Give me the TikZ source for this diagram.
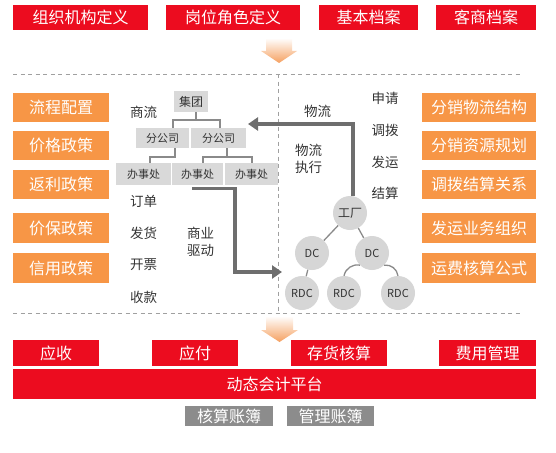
\documentclass[tikz,border=0pt]{standalone}
\usepackage{fontspec}
\setmainfont{Noto Sans CJK SC}
\usetikzlibrary{arrows.meta,calc}
\definecolor{cred}{HTML}{EC0C1F}
\definecolor{corange}{HTML}{F79646}
\definecolor{clight}{HTML}{D9D9D9}
\definecolor{cdark}{HTML}{8C8C8C}
\definecolor{ctext}{HTML}{333333}
\definecolor{cconn}{HTML}{8A8A8A}
\definecolor{carrow}{HTML}{6E6E6E}
\definecolor{ccirc}{HTML}{D6D6D6}
\definecolor{cdash}{HTML}{A0A0A0}
\definecolor{cshade}{HTML}{F5A060}
\tikzset{
  box/.style={inner sep=0pt, anchor=center, align=center},
  redbox/.style={box, fill=cred, text=white, font=\fontsize{16}{18}\selectfont},
  orbox/.style={box, fill=corange, text=white, font=\fontsize{16}{18}\selectfont},
  gbox/.style={box, fill=clight, text=ctext, font=\fontsize{11}{13}\selectfont},
  dbox/.style={box, fill=cdark, text=white, font=\fontsize{16}{18}\selectfont},
  lbl/.style={inner sep=0pt, text=ctext, align=left, font=\fontsize{13.5}{17}\selectfont},
  circ/.style={circle, fill=ccirc, minimum size=34pt, inner sep=0pt, text=ctext, font=\fontsize{11}{12}\selectfont},
  conn/.style={draw=cconn, line width=2.2pt},
  tree/.style={draw=cconn, line width=1.3pt},
  flow/.style={draw=carrow, line width=3.3pt, line join=miter, -{Triangle[length=10pt,width=13pt]}},
  dashline/.style={draw=cdash, line width=0.8pt, dash pattern=on 4pt off 3.5pt}
}
\begin{document}
\begin{tikzpicture}[x=1pt,y=-1pt]
\useasboundingbox (0,0) rectangle (556,452);
% top red boxes
\node[redbox, minimum width=135pt, minimum height=25pt] (t1) at (80.5,17.5) {组织机构定义};
\node[redbox, minimum width=134pt, minimum height=25pt] (t2) at (233,17.5) {岗位角色定义};
\node[redbox, minimum width=99pt, minimum height=25pt] (t3) at (368.5,17.5) {基本档案};
\node[redbox, minimum width=100pt, minimum height=25pt] (t4) at (486,17.5) {客商档案};
% top arrow
\shade[top color=white, bottom color=cshade] (266,38) -- (292,38) -- (292,51) -- (297,51) -- (279,63) -- (261,51) -- (266,51) -- cycle;
% dashed frame
\draw[dashline] (13,74) -- (520,74);
\draw[dashline] (13,313) -- (520,313);
\draw[dashline] (278,74) -- (278,313);
% left orange boxes
\node[orbox, minimum width=96pt, minimum height=29pt] (l1) at (61,107.5) {流程配置};
\node[orbox, minimum width=96pt, minimum height=29pt] (l2) at (61,145.5) {价格政策};
\node[orbox, minimum width=96pt, minimum height=29pt] (l3) at (61,184.5) {返利政策};
\node[orbox, minimum width=96pt, minimum height=30pt] (l4) at (61,228) {价保政策};
\node[orbox, minimum width=96pt, minimum height=30pt] (l5) at (61,268) {信用政策};
% right orange boxes
\node[orbox, minimum width=114pt, minimum height=29pt] (r1) at (479,107.5) {分销物流结构};
\node[orbox, minimum width=114pt, minimum height=29pt] (r2) at (479,145.5) {分销资源规划};
\node[orbox, minimum width=114pt, minimum height=29pt] (r3) at (479,184.5) {调拨结算关系};
\node[orbox, minimum width=114pt, minimum height=30pt] (r4) at (479,228) {发运业务组织};
\node[orbox, minimum width=114pt, minimum height=30pt] (r5) at (479,268) {运费核算公式};
% hierarchy
\node[gbox, minimum width=34pt, minimum height=21pt, font=\fontsize{12}{14}\selectfont] (jt) at (191,101.5) {集团};
\node[gbox, minimum width=53pt, minimum height=20pt] (fg1) at (162.5,138) {分公司};
\node[gbox, minimum width=55pt, minimum height=20pt] (fg2) at (218.5,138) {分公司};
\node[gbox, minimum width=55pt, minimum height=22pt] (b1) at (143.5,174) {办事处};
\node[gbox, minimum width=51pt, minimum height=22pt] (b2) at (197.5,174) {办事处};
\node[gbox, minimum width=53pt, minimum height=22pt] (b3) at (251.5,174) {办事处};
\draw[conn] ([xshift=5pt]jt.south) -- ++(0,8);
\draw[conn] ([xshift=10.5pt]fg1.north) -- ++(0,-8) -| ([xshift=1.5pt]fg2.north);
\draw[conn] ([xshift=12.5pt]fg1.south) -- ++(0,9) -| ([xshift=6.5pt]b1.north);
\draw[conn] ([xshift=8.5pt]fg2.south) -- ++(0,9);
\draw[conn] ([xshift=5.5pt]b2.north) -- ++(0,-6) -| ([xshift=0.5pt]b3.north);
% labels left
\node[lbl] (sl) at (143.5,112) {商流};
\node[lbl] (dd) at (143.5,201) {订单};
\node[lbl] (fh) at (143.5,233) {发货};
\node[lbl] (kp) at (143.5,265) {开票};
\node[lbl] (sk) at (143.5,297) {收款};
\node[lbl] (syqd) at (200.5,241.5) {商业\\驱动};
% labels right
\node[lbl] (wl) at (317.5,111) {物流};
\node[lbl] (wlzx) at (308.5,158.5) {物流\\执行};
\node[lbl] (sq) at (385,98) {申请};
\node[lbl] (db) at (385,130) {调拨};
\node[lbl] (fy) at (385,162) {发运};
\node[lbl] (js) at (385,193) {结算};
% circles
\node[circ, font=\fontsize{12}{13}\selectfont] (gc) at (350,213) {工厂};
\node[circ] (dc1) at (312,253) {DC};
\node[circ] (dc2) at (372,253) {DC};
\node[circ] (rd1) at (302,293) {RDC};
\node[circ] (rd2) at (344,293) {RDC};
\node[circ] (rd3) at (398,293) {RDC};
\draw[tree] (gc) -- (dc1);
\draw[tree] (gc) -- (dc2);
\draw[tree] (dc1) -- (rd1);
\draw[tree] (rd2.north) to[bend left=45] (dc2.south west);
\draw[tree] (dc2.south east) to[bend left=45] (rd3.north);
% flow arrows
\coordinate (wltip) at (248,124);
\draw[flow] ([xshift=3pt]gc.north) |- (wltip);
\coordinate (bztip) at (282,272);
\draw[flow] ([xshift=-5.5pt,yshift=-3pt]b2.south) -- ++(43,0) |- (bztip);
% bottom arrow
\shade[top color=white, bottom color=cshade] (266,316) -- (293,316) -- (293,330) -- (298,330) -- (279.5,342) -- (261,330) -- (266,330) -- cycle;
% bottom boxes
\node[redbox, minimum width=86pt, minimum height=26pt] (ys) at (56,353) {应收};
\node[redbox, minimum width=86pt, minimum height=26pt] (yf) at (195,353) {应付};
\node[redbox, minimum width=96pt, minimum height=26pt] (ch) at (339,353) {存货核算};
\node[redbox, minimum width=97pt, minimum height=26pt] (fg) at (487.5,353) {费用管理};
\node[redbox, minimum width=523pt, minimum height=30pt] (pt) at (274.5,384) {动态会计平台};
\node[dbox, minimum width=88pt, minimum height=20pt] (hs) at (229,416) {核算账簿};
\node[dbox, minimum width=87pt, minimum height=20pt] (gl) at (330.5,416) {管理账簿};
\end{tikzpicture}
\end{document}
